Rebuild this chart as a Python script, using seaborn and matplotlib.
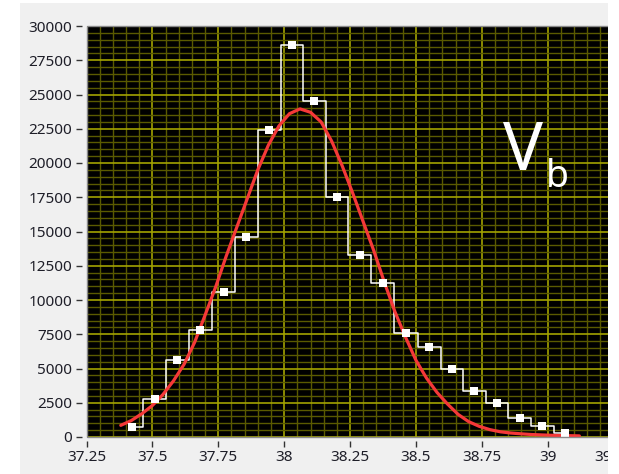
import numpy as np
import pandas as pd
import matplotlib
matplotlib.use("Agg")
import matplotlib.pyplot as plt
from matplotlib.patches import Rectangle
import seaborn as sns

# ---- data ----
bin_centers = [37.422, 37.508, 37.594, 37.680, 37.771, 37.857, 37.944, 38.029,
               38.115, 38.201, 38.287, 38.374, 38.463, 38.551, 38.636, 38.722,
               38.808, 38.894, 38.980, 39.066]
bin_counts = [700, 2750, 5600, 7800, 10600, 14600, 22400, 28600,
              24500, 17500, 13300, 11250, 7600, 6600, 5000, 3350,
              2450, 1400, 800, 300]

fit_x = [37.38, 37.42, 37.46, 37.50, 37.54, 37.58, 37.62, 37.66, 37.70, 37.74,
         37.78, 37.82, 37.86, 37.90, 37.94, 37.98, 38.02, 38.06, 38.10, 38.14,
         38.18, 38.22, 38.26, 38.30, 38.34, 38.38, 38.42, 38.46, 38.50, 38.54,
         38.58, 38.62, 38.66, 38.70, 38.74, 38.78, 38.82, 38.86, 38.90, 38.94,
         38.98, 39.02, 39.06, 39.10, 39.12]
fit_y = [850, 1200, 1700, 2300, 3100, 4100, 5300, 6900, 8900, 10950,
         13200, 15300, 17400, 19500, 21300, 22700, 23600, 23950, 23700, 23000,
         21600, 19800, 17800, 15700, 13600, 11300, 9150, 7300, 5600, 4300,
         3250, 2400, 1650, 1120, 780, 540, 380, 290, 230, 180,
         150, 120, 100, 90, 80]

x_ticks = [37.25, 37.5, 37.75, 38.0, 38.25, 38.5, 38.75, 39.0, 39.25]
x_tick_labels = ["37.25", "37.5", "37.75", "38", "38.25", "38.5", "38.75", "39", "39.25"]
y_ticks = [0, 2500, 5000, 7500, 10000, 12500, 15000, 17500, 20000, 22500,
           25000, 27500, 30000]
y_tick_labels = [str(v) for v in y_ticks]

hist_df = pd.DataFrame({"x": bin_centers, "count": bin_counts})
fit_df = pd.DataFrame({"x": fit_x, "y": fit_y})

# ---- figure ----
sns.set_theme(style="white")
plt.rcParams["font.family"] = ["Noto Sans", "DejaVu Sans"]

W, H = 619, 474
fig = plt.figure(figsize=(W / 100, H / 100), dpi=100)
fig.patch.set_facecolor("white")

# gray panel behind the graph
fig.add_artist(Rectangle((20 / W, 0), (608 - 20) / W, (H - 3) / H,
                         transform=fig.transFigure, facecolor="#f0f0f0",
                         edgecolor="none", zorder=-5))

left_px, right_px, top_px, bot_px = 86.5, 640.0, 26.0, 437.0
ax = fig.add_axes([left_px / W, (H - bot_px) / H,
                   (right_px - left_px) / W, (bot_px - top_px) / H])
ax.set_facecolor("black")
px_per_unit = 263.6
ax.set_xlim(37.25, 37.25 + (right_px - left_px) / px_per_unit)
ax.set_ylim(0, 30000)

# grid
ax.set_xticks(x_ticks)
ax.set_xticklabels(x_tick_labels)
ax.set_xticks(np.arange(37.25, 39.40, 0.05), minor=True)
ax.set_yticks(y_ticks)
ax.set_yticklabels(y_tick_labels)
ax.set_yticks(np.arange(0, 30001, 500), minor=True)
ax.grid(which="minor", color="#5a5a00", linewidth=1.0)
ax.grid(which="major", color="#a3a300", linewidth=1.2)
ax.set_axisbelow(True)

# data
sns.lineplot(data=hist_df, x="x", y="count", ax=ax, color="white",
             linewidth=1.1, drawstyle="steps-mid", zorder=3, estimator=None)
sns.lineplot(data=fit_df, x="x", y="y", ax=ax, color="#f53838",
             linewidth=2.3, zorder=4, estimator=None)
sns.scatterplot(data=hist_df, x="x", y="count", ax=ax, color="white",
                marker="s", s=30, edgecolor="white", linewidth=0, zorder=5)
ax.set_xlabel("")
ax.set_ylabel("")

# spines / ticks
for s in ax.spines.values():
    s.set_visible(False)
ax.spines["left"].set_position(("outward", 3))
ax.spines["bottom"].set_position(("outward", 3))
ax.tick_params(axis="both", which="major", direction="out", length=4.5,
               width=1.0, color="#333333", labelsize=11,
               labelcolor="#1e1e28", left=True, bottom=True)
ax.tick_params(axis="y", which="major", pad=3.0)
ax.tick_params(axis="x", which="major", pad=2.0)
ax.tick_params(axis="both", which="minor", length=0)

# frame around plot area
ax.add_patch(Rectangle((0, 0), 1, 1, transform=ax.transAxes, fill=False,
                       edgecolor="#8a8a8a", linewidth=1.0, zorder=6,
                       clip_on=False))

# V_b label
fig.text(503 / W, (H - 170) / H, "V", color="white", fontsize=48,
         ha="left", va="baseline")
fig.text(546 / W, (H - 187) / H, "b", color="white", fontsize=27,
         ha="left", va="baseline")

# white strip on the right (cropped screenshot)
fig.add_artist(Rectangle((608 / W, 0), (W - 608) / W + 0.05, 1,
                         transform=fig.transFigure, facecolor="white",
                         edgecolor="none", zorder=20))

fig.savefig("out.png", dpi=100, facecolor="white")
